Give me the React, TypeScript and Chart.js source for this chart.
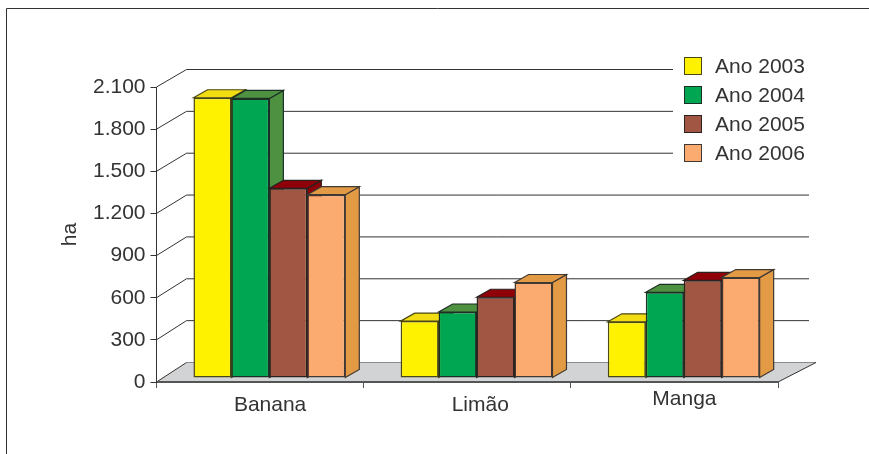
import React, { useEffect, useRef } from "react";
import { Chart, registerables } from "chart.js";

Chart.register(...registerables);

const categories = ["Banana", "Limão", "Manga"];
const seriesNames = ["Ano 2003", "Ano 2004", "Ano 2005", "Ano 2006"];
const ano2003 = [1995, 405, 400];
const ano2004 = [1990, 470, 610];
const ano2005 = [1350, 575, 695];
const ano2006 = [1305, 680, 715];
const seriesValues = [ano2003, ano2004, ano2005, ano2006];
const frontColors = ["#FFF200", "#00A651", "#A05643", "#FBAA70"];
const topColors = ["#F2DC12", "#4E9140", "#8F0008", "#E29A45"];
const sideColors = ["#F2DC12", "#4E9140", "#8F0008", "#E29A45"];
const outlineColors = ["#4a4716", "#1c2f26", "#2b2220", "#403833"];

const FONT = '"Liberation Sans", Arial, sans-serif';
const TEXT = "#333333";
const LINE = "#333333";
const FS = 21;

// Depth of the 3D box behind the front plane
const BOX_DX = 30;
const FLOOR_RIGHT_DX = 38;
const BOX_DY = 19.5;
// Columns stand a little way inside the box, with their own short depth
const COL_INSET_X = 9.3;
const COL_INSET_Y = -4;
const COL_DX = 14;
const COL_DY = 8;

const labelNudge = [
  { dx: 10, baseline: 411 },
  { dx: 13, baseline: 411 },
  { dx: 10, baseline: 405 },
];

function poly(ctx: CanvasRenderingContext2D, pts: number[][], fill: string, stroke: string, w = 1.2) {
  ctx.beginPath();
  pts.forEach((p, i) => (i ? ctx.lineTo(p[0], p[1]) : ctx.moveTo(p[0], p[1])));
  ctx.closePath();
  ctx.fillStyle = fill;
  ctx.fill();
  ctx.strokeStyle = stroke;
  ctx.lineWidth = w;
  ctx.stroke();
}

const boxPlugin = {
  id: "box3d",
  // Page frame, floor, back grid lines and the wall diagonals sit under everything
  beforeDraw(chart: any) {
    const { ctx, chartArea: a, scales } = chart;
    const y = scales.y;
    ctx.save();
    ctx.fillStyle = "#fff";
    ctx.fillRect(0, 0, chart.width, chart.height);

    ctx.strokeStyle = LINE;
    ctx.lineWidth = 1;
    ctx.beginPath();
    ctx.moveTo(6.5, 454);
    ctx.lineTo(6.5, 8.5);
    ctx.lineTo(869, 8.5);
    ctx.stroke();

    const floor = [
      [a.left, a.bottom],
      [a.left + BOX_DX, a.bottom - BOX_DY],
      [a.right + FLOOR_RIGHT_DX, a.bottom - BOX_DY],
      [a.right, a.bottom],
    ];
    ctx.beginPath();
    floor.forEach((p, i) => (i ? ctx.lineTo(p[0], p[1]) : ctx.moveTo(p[0], p[1])));
    ctx.closePath();
    ctx.fillStyle = "#D1D3D4";
    ctx.fill();

    ctx.lineWidth = 1;
    ctx.strokeStyle = LINE;
    y.ticks.forEach((t: any) => {
      const fy = y.getPixelForValue(t.value);
      const by = fy - BOX_DY + (t.value / 2100) * 2;
      const underLegend = by < 165;
      const endX = t.value === 0 ? a.right + FLOOR_RIGHT_DX : underLegend ? 673 : 809;
      ctx.strokeStyle = t.value === 0 ? "#8a8a8a" : LINE;
      ctx.beginPath();
      ctx.moveTo(a.left + BOX_DX, by);
      ctx.lineTo(endX, by);
      ctx.stroke();
      ctx.strokeStyle = LINE;
      ctx.beginPath();
      ctx.moveTo(a.left, fy);
      ctx.lineTo(a.left + BOX_DX, by);
      ctx.stroke();
    });
    ctx.beginPath();
    ctx.moveTo(a.right, a.bottom);
    ctx.lineTo(a.right + FLOOR_RIGHT_DX, a.bottom - BOX_DY);
    ctx.stroke();
    ctx.restore();
  },
  // Columns are painted left to right so each one covers the side of its neighbour
  beforeDatasetsDraw(chart: any) {
    const { ctx } = chart;
    ctx.save();
    ctx.translate(COL_INSET_X, COL_INSET_Y);
    const metas = chart.data.datasets.map((_: any, i: number) => chart.getDatasetMeta(i));
    metas.forEach((meta: any, di: number) => {
      meta.data.forEach((bar: any) => {
        const { x, y, base, width } = bar.getProps(["x", "y", "base", "width"]);
        const l = x - width / 2;
        const r = x + width / 2;
        const edge = outlineColors[di];
        poly(ctx, [[r, base], [r + COL_DX, base - COL_DY], [r + COL_DX, y - COL_DY], [r, y]], sideColors[di], edge);
        poly(ctx, [[l, y], [l + COL_DX, y - COL_DY], [r + COL_DX, y - COL_DY], [r, y]], topColors[di], edge);
        bar.draw(ctx);
      });
    });
    ctx.restore();
    return false;
  },
  // Category names and the legend block
  afterDraw(chart: any) {
    const { ctx, scales } = chart;
    const x = scales.x;
    ctx.save();
    ctx.fillStyle = TEXT;
    ctx.font = `${FS}px ${FONT}`;
    ctx.textAlign = "center";
    ctx.textBaseline = "alphabetic";
    categories.forEach((c, i) => {
      ctx.fillText(c, x.getPixelForTick(i) + labelNudge[i].dx, labelNudge[i].baseline);
    });

    ctx.textAlign = "left";
    ctx.textBaseline = "middle";
    seriesNames.forEach((n, i) => {
      const top = 57.5 + i * 29;
      ctx.fillStyle = frontColors[i];
      ctx.fillRect(684.5, top, 17, 17);
      ctx.strokeStyle = outlineColors[i];
      ctx.lineWidth = 1;
      ctx.strokeRect(684.5, top, 17, 17);
      ctx.fillStyle = TEXT;
      ctx.fillText(n, 715, top + 10);
    });
    ctx.restore();
  },
};

export default function App() {
  const ref = useRef<HTMLCanvasElement>(null);
  useEffect(() => {
    const chart = new Chart(ref.current as HTMLCanvasElement, {
      type: "bar",
      data: {
        labels: categories,
        datasets: seriesNames.map((label, i) => ({
          label,
          data: seriesValues[i],
          backgroundColor: frontColors[i],
          borderColor: outlineColors[i],
          borderWidth: 1.5,
          borderSkipped: false,
          categoryPercentage: 0.733,
          barPercentage: 1,
        })),
      },
      options: {
        animation: false,
        responsive: false,
        layout: { padding: { top: 87, right: 91, left: 0, bottom: 0 } },
        plugins: { legend: { display: false }, tooltip: { enabled: false } },
        scales: {
          x: {
            grid: { drawOnChartArea: false, drawTicks: true, tickLength: 6, tickColor: "#555", offset: true },
            border: { display: true, color: "#555", width: 2 },
            ticks: { display: false },
            afterFit(s: any) {
              s.height = 454 - 382;
            },
          },
          y: {
            min: 0,
            max: 2100,
            grid: { drawOnChartArea: false, drawTicks: true, tickLength: 6, tickColor: LINE },
            border: { display: true, color: LINE, width: 1 },
            title: { display: true, text: "ha", color: TEXT, font: { family: FONT, size: FS }, padding: { top: 58, bottom: 0 } },
            ticks: {
              stepSize: 300,
              padding: 5,
              color: TEXT,
              font: { family: FONT, size: FS },
              callback: (v: any) => String(v).replace(/\B(?=(\d{3})+$)/g, "."),
            },
            afterFit(s: any) {
              s.width = 156.5;
            },
          },
        },
      },
      plugins: [boxPlugin],
    } as any);
    return () => chart.destroy();
  }, []);
  return (
    <div style={{ position: "absolute", left: 0, top: 0, width: 869, height: 454, overflow: "hidden" }}>
      <canvas ref={ref} width={869} height={454} style={{ display: "block" }} />
    </div>
  );
}
